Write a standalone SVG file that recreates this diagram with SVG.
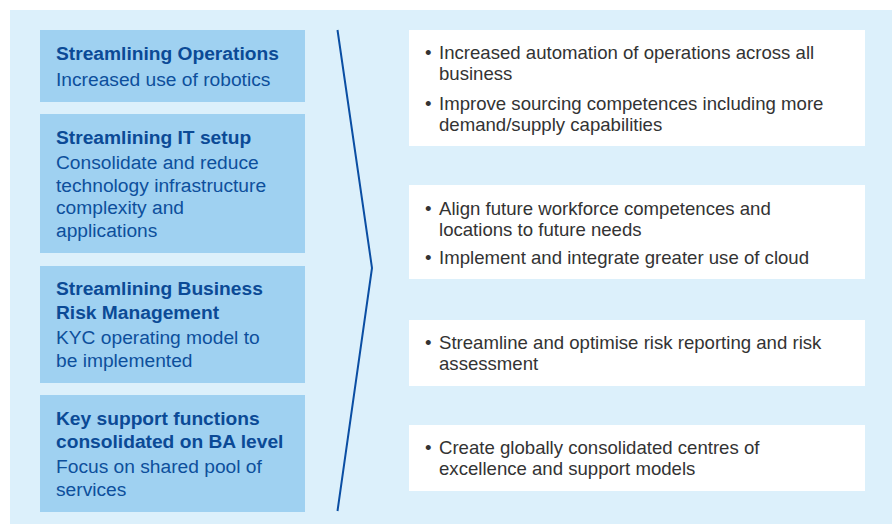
<svg xmlns="http://www.w3.org/2000/svg" width="892" height="525" viewBox="0 0 892 525">
<style>
.bg{fill:#dcf0fb}
.lbox{fill:#9fd1f1}
.rbox{fill:#ffffff}
.t{font-family:"Liberation Sans",Arial,sans-serif;font-size:19.2px;font-weight:bold;fill:#0b4a96}
.s{font-family:"Liberation Sans",Arial,sans-serif;font-size:19.2px;fill:#0d4f9c}
.r{font-family:"Liberation Sans",Arial,sans-serif;font-size:18.6px;fill:#333333}
.conn{fill:none;stroke:#0a4ea3;stroke-width:2}
</style>
<rect class="bg" x="10" y="10" width="882" height="514"/>
<g id="left1">
<rect class="lbox" x="40" y="30" width="265" height="72"/>
<text class="t" x="56" y="60">Streamlining Operations</text>
<text class="s" x="56" y="86">Increased use of robotics</text>
</g>
<g id="left2">
<rect class="lbox" x="40" y="114" width="265" height="139"/>
<text class="t" x="56" y="144">Streamlining IT setup</text>
<text class="s" x="56" y="169">Consolidate and reduce</text>
<text class="s" x="56" y="192">technology infrastructure</text>
<text class="s" x="56" y="214">complexity and</text>
<text class="s" x="56" y="237">applications</text>
</g>
<g id="left3">
<rect class="lbox" x="40" y="266" width="265" height="117"/>
<text class="t" x="56" y="295">Streamlining Business</text>
<text class="t" x="56" y="319">Risk Management</text>
<text class="s" x="56" y="344">KYC operating model to</text>
<text class="s" x="56" y="367">be implemented</text>
</g>
<g id="left4">
<rect class="lbox" x="40" y="395" width="265" height="117"/>
<text class="t" x="56" y="425">Key support functions</text>
<text class="t" x="56" y="448">consolidated on BA level</text>
<text class="s" x="56" y="473">Focus on shared pool of</text>
<text class="s" x="56" y="496">services</text>
</g>
<g id="connectors">
<polyline class="conn" points="337.5,30 372,268 337.5,511"/>
</g>
<g id="right1">
<rect class="rbox" x="409" y="30" width="456" height="116"/>
<text class="r" x="425" y="59">•</text>
<text class="r" x="439" y="59">Increased automation of operations across all</text>
<text class="r" x="439" y="80">business</text>
<text class="r" x="425" y="110">•</text>
<text class="r" x="439" y="110">Improve sourcing competences including more</text>
<text class="r" x="439" y="131">demand/supply capabilities</text>
</g>
<g id="right2">
<rect class="rbox" x="409" y="185" width="456" height="94"/>
<text class="r" x="425" y="215">•</text>
<text class="r" x="439" y="215">Align future workforce competences and</text>
<text class="r" x="439" y="236">locations to future needs</text>
<text class="r" x="425" y="264">•</text>
<text class="r" x="439" y="264">Implement and integrate greater use of cloud</text>
</g>
<g id="right3">
<rect class="rbox" x="409" y="320" width="456" height="66"/>
<text class="r" x="425" y="349">•</text>
<text class="r" x="439" y="349">Streamline and optimise risk reporting and risk</text>
<text class="r" x="439" y="370">assessment</text>
</g>
<g id="right4">
<rect class="rbox" x="409" y="425" width="456" height="66"/>
<text class="r" x="425" y="454">•</text>
<text class="r" x="439" y="454">Create globally consolidated centres of</text>
<text class="r" x="439" y="475">excellence and support models</text>
</g>
</svg>
